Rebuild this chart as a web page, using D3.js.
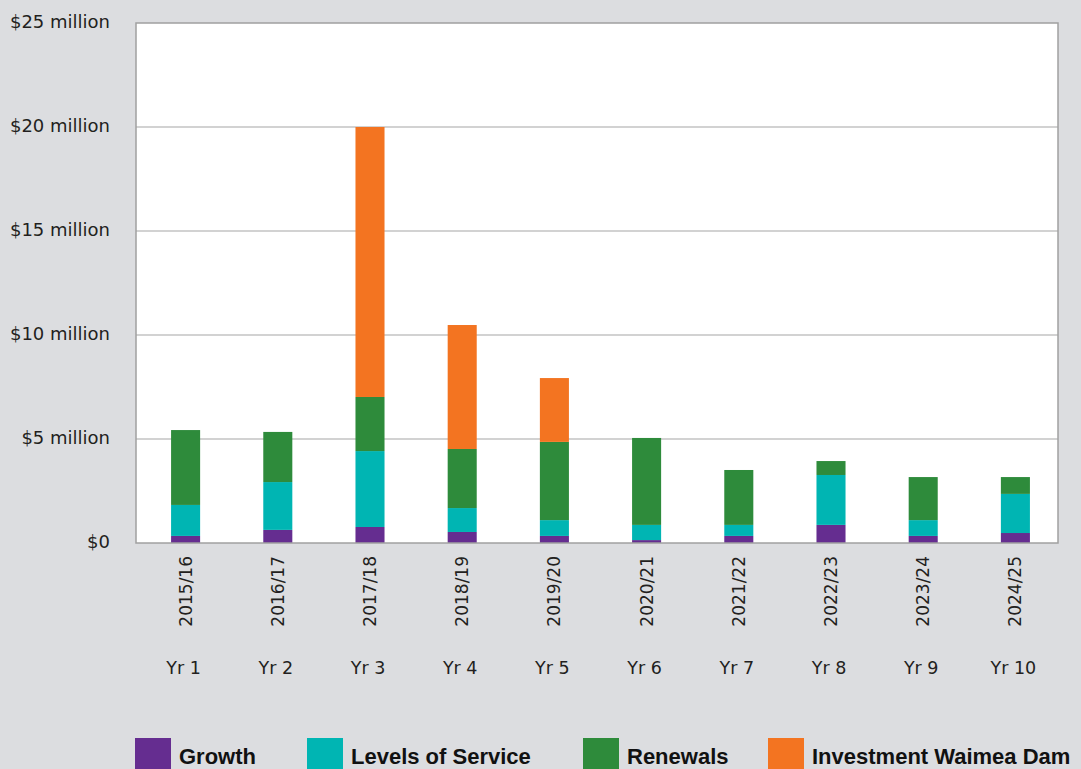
<!DOCTYPE html>
<html>
<head>
<meta charset="utf-8">
<script src="https://cdn.jsdelivr.net/npm/d3@7"></script>
<style>
  body { margin: 0; background: #dcdde0; }
  svg { display: block; }
  .ylab { font-family: "DejaVu Sans", sans-serif; font-size: 18px; fill: #231f20; }
  .xlab { font-family: "DejaVu Sans", sans-serif; font-size: 17px; fill: #231f20; }
  .yrlab { font-family: "DejaVu Sans", sans-serif; font-size: 17.5px; fill: #231f20; }
  .leg { font-family: "Liberation Sans", Arial, sans-serif; font-weight: bold; font-size: 22px; fill: #111; }
</style>
</head>
<body>
<script>
//chart data
var years = ["2015/16", "2016/17", "2017/18", "2018/19", "2019/20", "2020/21", "2021/22", "2022/23", "2023/24", "2024/25"];
var yearNums = ["Yr 1", "Yr 2", "Yr 3", "Yr 4", "Yr 5", "Yr 6", "Yr 7", "Yr 8", "Yr 9", "Yr 10"];
var growth = [0.34, 0.63, 0.77, 0.53, 0.34, 0.14, 0.34, 0.87, 0.34, 0.48];
var levelsOfService = [1.49, 2.30, 3.65, 1.15, 0.76, 0.73, 0.53, 2.40, 0.76, 1.88];
var renewals = [3.60, 2.41, 2.60, 2.84, 3.76, 4.18, 2.64, 0.67, 2.07, 0.81];
var waimeaDam = [0, 0, 12.98, 5.96, 3.07, 0, 0, 0, 0, 0];
var seriesNames = ["Growth", "Levels of Service", "Renewals", "Investment Waimea Dam"];
var yTicks = [0, 5, 10, 15, 20, 25];

var colors = ["#652d90", "#00b5b3", "#2e8b3b", "#f37421"];

//svg frame
var width = 1081,
    height = 769;

var svg = d3.select("body")
    .append("svg")
    .attr("width", width)
    .attr("height", height);

var plotLeft = 136, plotRight = 1058, plotTop = 23, plotBottom = 543;

//build table for stacking
var table = years.map(function (y, i) {
    return { year: y, s0: growth[i], s1: levelsOfService[i], s2: renewals[i], s3: waimeaDam[i] };
});
var stack = d3.stack().keys(["s0", "s1", "s2", "s3"])(table);

//scales
var x = d3.scaleBand()
    .domain(years)
    .range([plotLeft + 3.5, plotRight + 3.5])
    .paddingInner(0.685)
    .paddingOuter(0.3425);

var y = d3.scaleLinear()
    .domain([0, 25])
    .range([plotBottom, plotTop]);

//plot background
svg.append("rect")
    .attr("x", plotLeft)
    .attr("y", plotTop)
    .attr("width", plotRight - plotLeft)
    .attr("height", plotBottom - plotTop)
    .style("fill", "#ffffff");

//gridlines
svg.selectAll(".grid")
    .data(yTicks.slice(1, 5))
    .enter()
    .append("line")
    .attr("x1", plotLeft)
    .attr("x2", plotRight)
    .attr("y1", function (d) { return y(d); })
    .attr("y2", function (d) { return y(d); })
    .style("stroke", "#a6a6a6")
    .style("stroke-width", 1.2);

//y labels
svg.selectAll(".ylab")
    .data(yTicks)
    .enter()
    .append("text")
    .attr("class", "ylab")
    .attr("x", 110)
    .attr("y", function (d) { return y(d) + 5; })
    .attr("text-anchor", "end")
    .text(function (d) { return d === 0 ? "$0" : "$" + d + " million"; });

//bars
var layers = svg.selectAll(".layer")
    .data(stack)
    .enter()
    .append("g")
    .attr("class", "layer")
    .style("fill", function (d, i) { return colors[i]; });

layers.selectAll("rect")
    .data(function (d) { return d; })
    .enter()
    .append("rect")
    .attr("x", function (d) { return x(d.data.year); })
    .attr("width", x.bandwidth())
    .attr("y", function (d) { return y(d[1]); })
    .attr("height", function (d) { return y(d[0]) - y(d[1]); });

//plot border
svg.append("rect")
    .attr("x", plotLeft)
    .attr("y", plotTop)
    .attr("width", plotRight - plotLeft)
    .attr("height", plotBottom - plotTop)
    .style("fill", "none")
    .style("stroke", "#a0a0a0")
    .style("stroke-width", 1.5);

//rotated year labels
svg.selectAll(".xlab")
    .data(years)
    .enter()
    .append("text")
    .attr("class", "xlab")
    .attr("text-anchor", "end")
    .attr("transform", function (d) {
        return "translate(" + (x(d) + x.bandwidth() / 2 + 6) + ",556) rotate(-90)";
    })
    .text(function (d) { return d; });

//Yr labels
svg.selectAll(".yrlab")
    .data(yearNums)
    .enter()
    .append("text")
    .attr("class", "yrlab")
    .attr("text-anchor", "middle")
    .attr("x", function (d, i) { return x(years[i]) + x.bandwidth() / 2 - 2; })
    .attr("y", 674)
    .text(function (d) { return d; });

//legend
var legendX = [135, 307, 583, 768];
var legend = svg.selectAll(".legItem")
    .data(seriesNames)
    .enter()
    .append("g")
    .attr("transform", function (d, i) { return "translate(" + legendX[i] + ",738)"; });

legend.append("rect")
    .attr("width", 36)
    .attr("height", 31)
    .style("fill", function (d, i) { return colors[i]; });

legend.append("text")
    .attr("class", "leg")
    .attr("x", 44)
    .attr("y", 26)
    .text(function (d) { return d; });
</script>
</body>
</html>
